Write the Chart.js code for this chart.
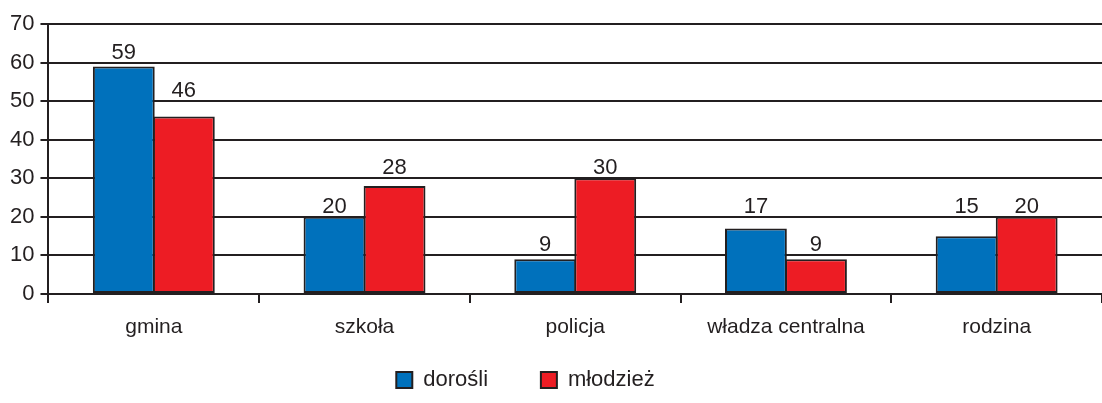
<!DOCTYPE html>
<html>
<head>
<meta charset="utf-8">
<script src="https://cdn.jsdelivr.net/npm/chart.js@4.4.1/dist/chart.umd.min.js"></script>
<style>
  html, body { margin: 0; padding: 0; background: #fff; }
  #wrap { width: 1102px; height: 403px; }
</style>
</head>
<body>
<div id="wrap"><canvas id="chart"></canvas></div>
<script>
var categories = ['gmina', 'szkoła', 'policja', 'władza centralna', 'rodzina'];
var dorosli = [59, 20, 9, 17, 15];
var mlodziez = [46, 28, 30, 9, 20];
var yTicks = [0, 10, 20, 30, 40, 50, 60, 70];

var FONT = '"Liberation Sans", Arial, sans-serif';

// value labels: in the original they sit just above the next gridline up
var barLabels = {
    id: 'barLabels',
    afterDatasetsDraw: function(chart) {
        var ctx = chart.ctx;
        var yScale = chart.scales.y;
        ctx.save();
        ctx.font = '22px ' + FONT;
        ctx.fillStyle = '#231f20';
        ctx.textAlign = 'center';
        ctx.textBaseline = 'alphabetic';
        chart.data.datasets.forEach(function(ds, i) {
            chart.getDatasetMeta(i).data.forEach(function(bar, j) {
                var v = ds.data[j];
                var snap = Math.ceil(v / 10) * 10;
                ctx.fillText(v, bar.x, yScale.getPixelForValue(snap) - 4);
            });
        });
        ctx.restore();
    }
};

var ctx = document.getElementById('chart');
var barGraph = new Chart(ctx, {
    type: 'bar',
    data: {
        labels: categories,
        datasets: [{
            label: 'dorośli',
            data: dorosli,
            backgroundColor: '#0071bc',
            borderColor: '#231f20',
            borderWidth: 2,
            borderSkipped: false
        }, {
            label: 'młodzież',
            data: mlodziez,
            backgroundColor: '#ed1c24',
            borderColor: '#231f20',
            borderWidth: 2,
            borderSkipped: false
        }]
    },
    options: {
        responsive: true,
        maintainAspectRatio: false,
        animation: false,
        layout: { padding: { top: 24, right: 0, left: 4, bottom: 2 } },
        datasets: { bar: { barPercentage: 1.03, categoryPercentage: 0.57 } },
        plugins: {
            tooltip: { enabled: false },
            legend: {
                position: 'bottom',
                labels: {
                    color: '#231f20',
                    font: { size: 22, family: FONT },
                    boxWidth: 16,
                    boxHeight: 16,
                    padding: 10,
                    generateLabels: function(chart) {
                        // trailing spaces widen the gap between items and pull the legend left
                        var items = Chart.defaults.plugins.legend.labels.generateLabels(chart);
                        items[0].text = items[0].text + '       ';
                        items[1].text = items[1].text + '         ';
                        return items;
                    }
                }
            }
        },
        scales: {
            x: {
                afterFit: function(scale) { scale.height = 65; },
                grid: {
                    offset: true,
                    drawOnChartArea: false,
                    color: '#231f20',
                    lineWidth: 2,
                    tickLength: 9
                },
                border: { color: '#231f20', width: 2 },
                ticks: {
                    color: '#231f20',
                    padding: 12,
                    font: { size: 21, family: FONT }
                }
            },
            y: {
                min: 0,
                max: 70,
                afterBuildTicks: function(axis) {
                    axis.ticks = yTicks.map(function(v) { return { value: v }; });
                },
                grid: {
                    color: '#231f20',
                    lineWidth: 2,
                    tickLength: 8
                },
                border: { color: '#231f20', width: 2 },
                ticks: {
                    color: '#231f20',
                    padding: 6,
                    font: { size: 22, family: FONT }
                }
            }
        }
    },
    plugins: [barLabels]
});
</script>
</body>
</html>
